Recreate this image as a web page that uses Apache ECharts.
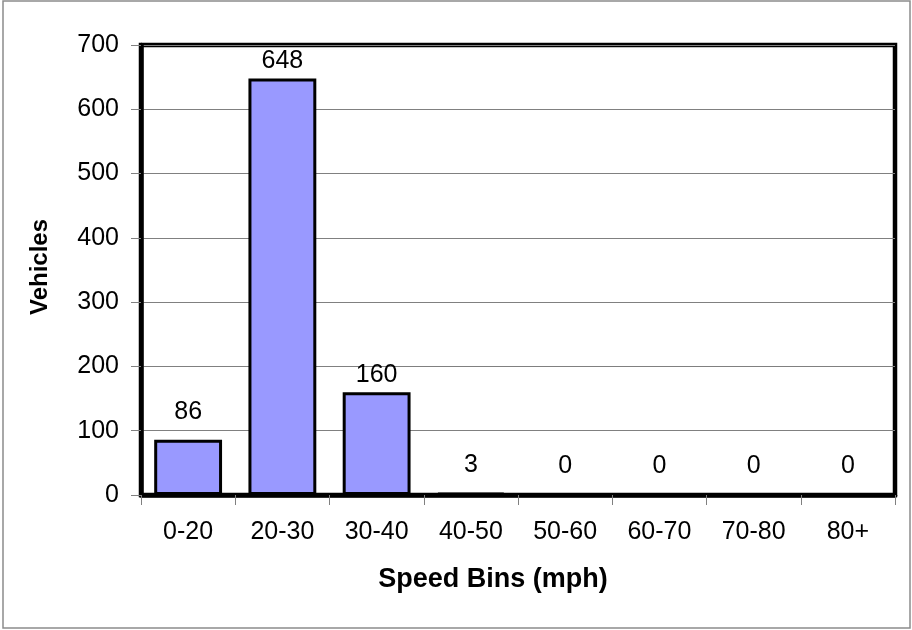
<!DOCTYPE html>
<html>
<head>
<meta charset="utf-8">
<script src="https://cdn.jsdelivr.net/npm/echarts@6/dist/echarts.min.js"></script>
<style>
html,body{margin:0;padding:0;background:#fff;}
#chart{width:912px;height:630px;}
</style>
</head>
<body>
<div id="chart"></div>
<script>
const categories = ['0-20','20-30','30-40','40-50','50-60','60-70','70-80','80+'];
const vehicles = [86, 648, 160, 3, 0, 0, 0, 0];
const yTicks = { min: 0, max: 700, interval: 100 };
const xTitle = 'Speed Bins (mph)';
const yTitle = 'Vehicles';

const FONT = '"Liberation Sans", Arial, sans-serif';
const chart = echarts.init(document.getElementById('chart'), null, { renderer: 'canvas' });

const barData = vehicles.map(v => ({
  value: v,
  label: { distance: v >= 100 ? 5 : 15 }
}));

chart.setOption({
  animation: false,
  backgroundColor: '#fff',
  graphic: [{
    type: 'rect',
    shape: { x: 3, y: 1, width: 907, height: 627 },
    style: { fill: 'none', stroke: '#8c8c8c', lineWidth: 1.5 },
    silent: true, z: 0
  }],
  grid: {
    left: 141, right: 17, top: 45, bottom: 135,
    show: true, borderColor: '#000', borderWidth: 4.5, backgroundColor: 'transparent'
  },
  xAxis: {
    type: 'category',
    data: categories,
    boundaryGap: true,
    axisLine: { show: true, lineStyle: { color: '#000', width: 4.5 } },
    axisTick: { show: true, alignWithLabel: false, length: 10, lineStyle: { color: '#808080', width: 1 } },
    axisLabel: { color: '#000', fontSize: 25, fontFamily: FONT, margin: 25 },
    name: xTitle,
    nameLocation: 'middle',
    nameGap: 71,
    nameTextStyle: { color: '#000', fontSize: 27, fontWeight: 'bold', fontFamily: FONT, padding: [0, 50, 0, 0] }
  },
  yAxis: {
    type: 'value',
    min: yTicks.min, max: yTicks.max, interval: yTicks.interval,
    axisLine: { show: true, lineStyle: { color: '#000', width: 4.5 } },
    axisTick: { show: true, length: 10, lineStyle: { color: '#808080', width: 1 } },
    axisLabel: { color: '#000', fontSize: 25, fontFamily: FONT, margin: 22 },
    splitLine: { show: true, lineStyle: { color: '#808080', width: 1 } },
    name: yTitle,
    nameLocation: 'middle',
    nameRotate: 90,
    nameGap: 89,
    nameTextStyle: { color: '#000', fontSize: 24, fontWeight: 'bold', fontFamily: FONT, padding: [0, 0, 0, 6] }
  },
  series: [{
    type: 'bar',
    data: barData,
    barCategoryGap: '28%',
    itemStyle: { color: '#9999FF', borderColor: '#000', borderWidth: 3 },
    label: {
      show: true, position: 'top', color: '#000', fontSize: 25, fontFamily: FONT
    }
  }]
});
</script>
</body>
</html>
